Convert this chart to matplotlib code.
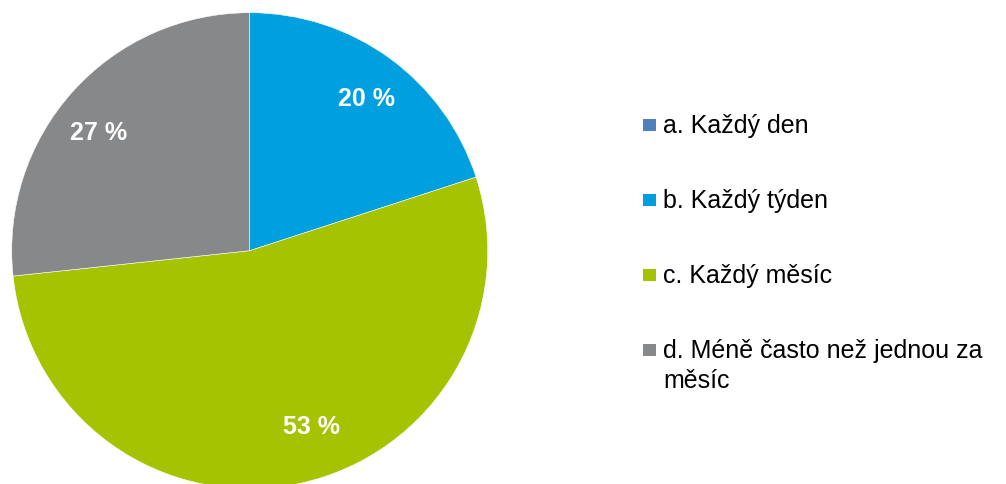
import matplotlib
matplotlib.use("Agg")
import matplotlib.pyplot as plt
from matplotlib.patches import Rectangle

plt.rcParams['font.family'] = ['Liberation Sans', 'DejaVu Sans']

# data (percent of respondents)
categories = ["a. Každý den", "b. Každý týden", "c. Každý měsíc",
              "d. Méně často než jednou za\nměsíc"]
shares = [0.0, 20.0, 53.3, 26.7]
colors = ["#4F81BD", "#009FDF", "#A5C300", "#87888A"]

# small nudges for the percent labels (Excel "best fit" placement)
label_nudge = [(0, 0), (0.019, -0.01), (0.094, 0.04), (-0.042, -0.04)]

W, H, DPI = 10.06, 4.84, 100
fig = plt.figure(figsize=(W, H), dpi=DPI)

# pie: centre at (249.7, 250.7) px from top-left, radius 238 px
cx, cy, r = 249.7, H * DPI - 250.7, 238.0
ax = fig.add_axes([(cx - r) / (W * DPI), (cy - r) / (H * DPI),
                   2 * r / (W * DPI), 2 * r / (H * DPI)])

wedges, texts, autotexts = ax.pie(
    shares, colors=colors, startangle=90, counterclock=False,
    autopct=lambda p: f"{p:.0f} %" if p > 0.5 else "",
    pctdistance=0.8,
    wedgeprops=dict(edgecolor="white", linewidth=0.4),
    textprops=dict(color="white", fontsize=18, fontweight="bold"))
ax.set_xlim(-1, 1)
ax.set_ylim(-1, 1)
ax.set_aspect("equal")
for w in wedges:
    w.set_clip_on(False)
for t, (dx, dy) in zip(autotexts, label_nudge):
    x, y = t.get_position()
    t.set_position((x + dx, y + dy))

# legend drawn by hand so the multi-line entry lines up like the original
sq = 12.7
top0, step, line_h = 125.0, 75.0, 29.7
for i, (lab, col) in enumerate(zip(categories, colors)):
    yc = H * DPI - (top0 + i * step)
    fig.add_artist(Rectangle((643.3 / (W * DPI), (yc - sq / 2) / (H * DPI)),
                             sq / (W * DPI), sq / (H * DPI),
                             transform=fig.transFigure, color=col, lw=0))
    for j, line in enumerate(lab.split("\n")):
        base = yc - 8.3 - j * line_h
        fig.text(663 / (W * DPI), base / (H * DPI), line, fontsize=18,
                 color="#000000", ha="left", va="baseline")

fig.savefig("out.png", dpi=DPI)
